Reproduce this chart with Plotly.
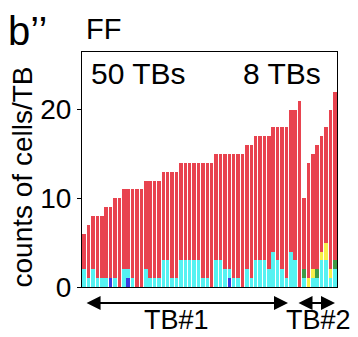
import plotly.graph_objects as go

# ---- data ----
bars = list(range(1, 59))  # 50 bars TB#1 + 8 bars TB#2
totals = [6, 7, 8, 8, 8, 9, 9, 10, 10, 11, 11, 11, 11, 11, 12, 12, 12, 12,
          13, 13, 13, 13, 14, 14, 14, 14, 14, 14, 14, 14, 15, 15, 15, 15, 15, 15, 15,
          16, 16, 17, 17, 17, 17, 18, 18, 18, 18, 20, 20, 21,
          10, 14, 15, 16, 17, 18, 20, 22]
blue = [0] * 58
for i in (7, 11, 34):
    blue[i - 1] = 1
cyan = [2, 1, 2, 1, 1, 1, 0, 1, 0, 2, 1, 1, 0, 0, 2, 1, 1, 1,
        3, 3, 1, 1, 3, 3, 3, 3, 3, 1, 1, 0, 3, 3, 2, 1, 1, 1, 0,
        2, 1, 3, 3, 3, 2, 4, 3, 2, 1, 4, 3, 0,
        1, 0, 1, 1, 3, 3, 1, 2]
yellow = [0] * 50 + [0, 1, 1, 0, 1, 2, 1, 0]
green = [0] * 50 + [1, 0, 0, 1, 0, 0, 0, 1]
red = [t - b - c - y - g for t, b, c, y, g in zip(totals, blue, cyan, yellow, green)]

yticks = [0, 10, 20]

colors = {
    "blue": "#3a3ae0",
    "cyan": "#55f2f2",
    "yellow": "#f7ef4a",
    "green": "#3f9a45",
    "red": "#e8434f",
}

fig = go.Figure()
for name, vals in [("blue", blue), ("cyan", cyan), ("yellow", yellow),
                   ("green", green), ("red", red)]:
    fig.add_trace(go.Bar(x=bars, y=vals, name=name, marker_color=colors[name],
                         marker_line_width=0, showlegend=False))

font = "Liberation Sans, Arial, sans-serif"
fig.update_layout(
    barmode="stack",
    bargap=0.2,
    width=350, height=329,
    margin=dict(l=74, r=21, t=44, b=50),
    paper_bgcolor="white", plot_bgcolor="white",
    font=dict(family=font, color="black", size=28),
    xaxis=dict(range=[0.5, 58.5], showticklabels=False, ticks="",
               showline=True, linecolor="black", linewidth=1, mirror=True,
               showgrid=False, zeroline=False),
    yaxis=dict(range=[0, 26.5], tickvals=yticks, ticks="outside", ticklen=4,
               tickcolor="black", showline=True, linecolor="black", linewidth=1,
               mirror=True, showgrid=False, zeroline=False,
               tickfont=dict(size=28)),
)

anns = [
    dict(text="b’’", x=0, y=1, xref="paper", yref="paper", xanchor="left",
         yanchor="top", font=dict(size=40), showarrow=False, xshift=-75, yshift=44,
         borderpad=0),
    dict(text="FF", x=0, y=1, xref="paper", yref="paper", xanchor="left",
         yanchor="bottom", font=dict(size=29), showarrow=False, xshift=2, yshift=5),
    dict(text="50 TBs", x=0, y=1, xref="paper", yref="paper", xanchor="left",
         yanchor="top", font=dict(size=30), showarrow=False, xshift=7, yshift=-3),
    dict(text="8 TBs", x=1, y=1, xref="paper", yref="paper", xanchor="right",
         yanchor="top", font=dict(size=30), showarrow=False, xshift=-14, yshift=-3),
    dict(text="counts of cells/TB", x=0, y=0.5, xref="paper", yref="paper",
         xanchor="center", yanchor="middle", textangle=-90, font=dict(size=28),
         showarrow=False, xshift=-60, yshift=-8),
    dict(text="TB#1", x=22.1, y=0, xref="x", yref="paper", xanchor="center",
         yanchor="top", font=dict(size=27), showarrow=False, yshift=-17, borderpad=0),
    dict(text="TB#2", x=54.2, y=0, xref="x", yref="paper", xanchor="center",
         yanchor="top", font=dict(size=27), showarrow=False, yshift=-17, borderpad=0),
    # arrows
    dict(x=47.35, y=0, ax=1.2, ay=0, xref="x", yref="paper", axref="x",
         ayref="pixel", yshift=-16, text="", showarrow=True, arrowhead=2,
         arrowsize=1.4, arrowwidth=2, arrowside="end+start", arrowcolor="black",
         standoff=0, startstandoff=0),
    dict(x=58.05, y=0, ax=49.4, ay=0, xref="x", yref="paper", axref="x",
         ayref="pixel", yshift=-16, text="", showarrow=True, arrowhead=2,
         arrowsize=1.4, arrowwidth=2, arrowside="end+start", arrowcolor="black",
         standoff=0, startstandoff=0),
]
fig.update_layout(annotations=anns)

fig.write_html("out.html")
